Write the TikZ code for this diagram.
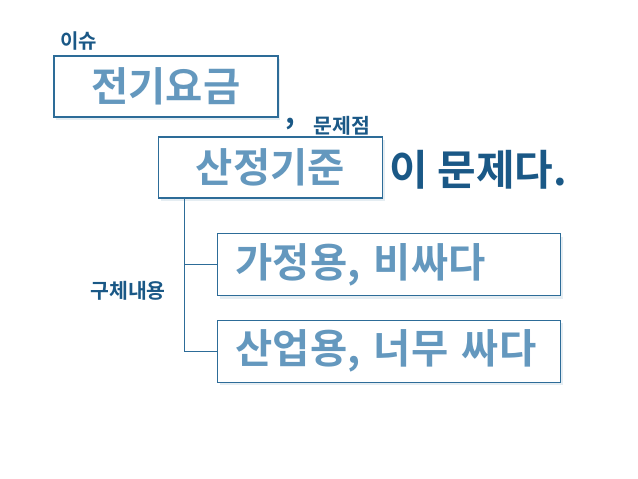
\documentclass[tikz,border=0pt]{standalone}
\usepackage{fontspec}
\setmainfont{Noto Sans CJK KR}
\newfontfamily\krbold{Noto Sans CJK KR Bold}
\usetikzlibrary{positioning, shadows}
\definecolor{boxline}{RGB}{45,108,152}
\definecolor{boxtext}{RGB}{100,152,190}
\definecolor{darkblue}{RGB}{26,88,134}

\tikzset{
  topicbox/.style={draw=boxline, line width=1.1pt, fill=white,
    drop shadow={opacity=0.12, shadow xshift=2pt, shadow yshift=-3pt, fill=boxline},
    text=boxtext, font=\krbold\fontsize{40.5}{42}\selectfont, inner sep=0pt},
  tag/.style={text=darkblue, font=\krbold\fontsize{20.5}{22}\selectfont, inner sep=0pt},
  branch/.style={draw=boxline, line width=0.9pt}
}

\begin{document}
\begin{tikzpicture}[x=1pt, y=-1pt]
  \useasboundingbox (0,0) rectangle (638,479);

  % issue
  \node[tag, font=\krbold\fontsize{20}{22}\selectfont] (issuelbl) at (79,41) {이슈};
  \node[topicbox, minimum width=224pt, minimum height=61pt] (issue) at (166,86.5) {전기요금\hspace{12pt}};
  \node[text=darkblue, font=\krbold\fontsize{30}{32}\selectfont, inner sep=0pt, anchor=base] (comma) at (290,123) {,};
  \node[tag] (problbl) at (342,126) {문제점};

  % problem
  \node[topicbox, minimum width=224pt, minimum height=61pt] (crit) at (270.5,167.5) {산정기준\hspace{12pt}};
  \node[text=darkblue, font=\krbold\fontsize{42}{44}\selectfont, inner sep=0pt, anchor=west] (verdict) at (389,170) {이 문제다.};

  % details
  \node[topicbox, minimum width=343pt, minimum height=62pt, anchor=north west, text width=307pt, align=left,
    inner xsep=18pt] (home) at (217,233) {가정용, 비싸다};
  \node[topicbox, minimum width=343pt, minimum height=62pt, anchor=north west, text width=307pt, align=left,
    inner xsep=18pt] (ind) at (217,319.5) {산업용, 너무 싸다};
  \node[tag] (detlbl) at (128,291) {구체내용};

  \coordinate (trunk) at ([xshift=26pt]crit.south west);
  \draw[branch] (trunk) |- (home.west);
  \draw[branch] (trunk) |- (ind.west);
\end{tikzpicture}
\end{document}
